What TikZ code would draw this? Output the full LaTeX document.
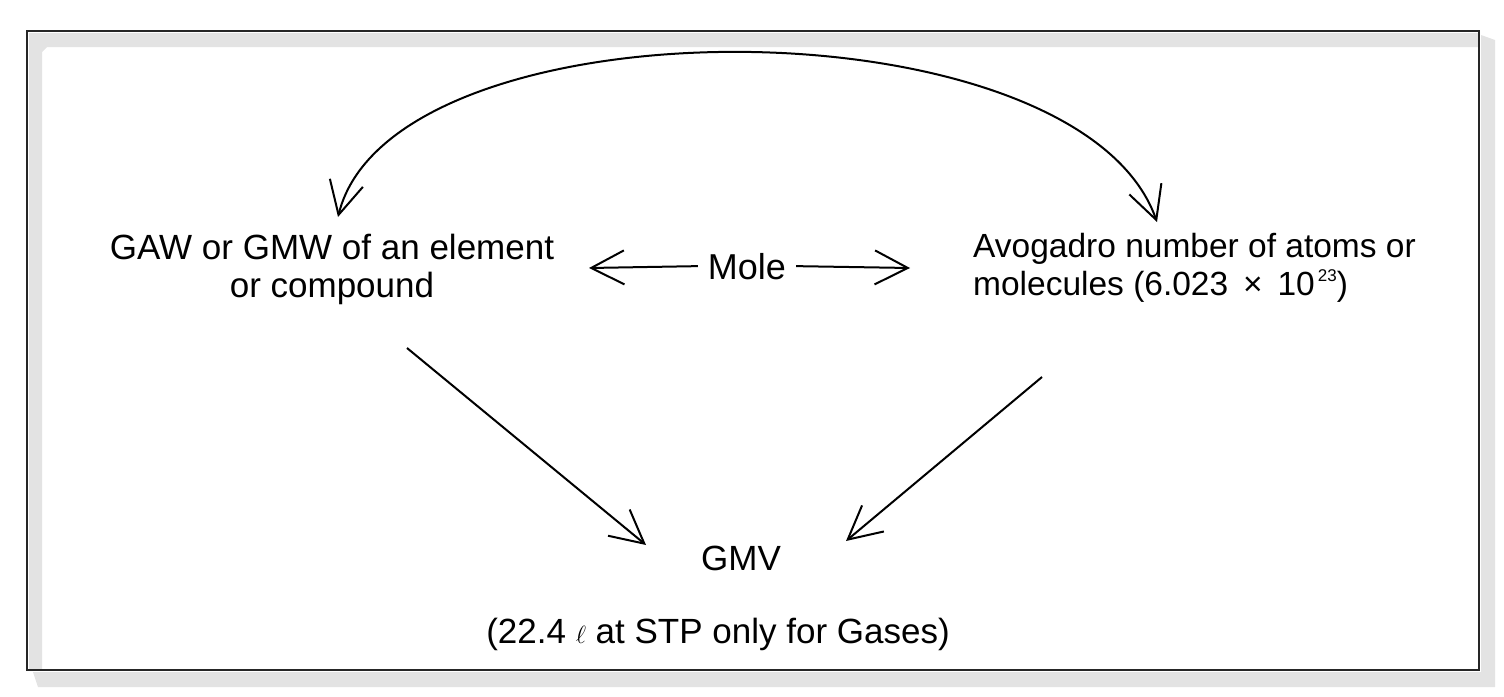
\documentclass[tikz,border=0pt]{standalone}
\usepackage{fontspec}
\setmainfont{Liberation Sans}
\usetikzlibrary{arrows.meta}
\begin{document}
\begin{tikzpicture}[x=1pt,y=-1pt,
  txt/.style={inner sep=0pt,font=\fontsize{35}{38}\selectfont},
  txtR/.style={inner sep=0pt,font=\fontsize{33.5}{38}\selectfont},
  conn/.style={line width=2pt,{Straight Barb[length=33pt,width=34pt,line width=2pt]}-},
  conn2/.style={line width=2pt,{Straight Barb[length=33pt,width=34pt,line width=2pt]}-{Straight Barb[length=33pt,width=34pt,line width=2pt]}},
  shade/.style={fill=black!11,draw=none},
  frame/.style={draw=black!85,line width=2.6pt}]
\useasboundingbox (0,0) rectangle (1504,696);
% frame with shadow bands
\fill[shade] (29,33) -- (1478,33) -- (1478,47) -- (47,47) -- (42,52) -- (42,669) -- (29,669) -- cycle;
\fill[shade] (1481,35) -- (1495,40) -- (1495,687) -- (38,687) -- (33,672) -- (1481,672) -- cycle;
\draw[frame] (27,31) rectangle (1479,670);
% texts
\node[txt,anchor=base,align=center] (gaw) at (332,297) {GAW or GMW of an element\\ or compound};
\node[txtR,anchor=base west,align=left] (avo) at (973,295) {Avogadro number of atoms or\\ molecules (6.023 \,×\, 10\kern3pt\raisebox{14pt}{\fontsize{17}{17}\selectfont 23})};
\node[txt,anchor=base,inner xsep=10pt,font=\fontsize{36}{38}\selectfont] (mole) at (747,279) {Mole};
\node[txt,anchor=base] (gmv) at (741,570) {GMV};
\node[txt,anchor=base] (stp) at (718,643) {(22.4 $\ell$ at STP only for Gases)};
% connector ends
\coordinate (moleL) at (589,268);
\coordinate (moleR) at (910,268);
\coordinate (arcL) at (338,217);
\coordinate (arcR) at (1157,222);
\coordinate (gawT) at (407,348);
\coordinate (gmvL) at (646,545);
\coordinate (avoT) at (1042,377);
\coordinate (gmvR) at (846,541);
% connectors
\draw[conn] (moleL) -- (mole.west);
\draw[conn] (moleR) -- (mole.east);
\draw[conn2] (arcL) .. controls (392,-3) and (1078,-3) .. (arcR);
\draw[conn] (gmvL) -- (gawT);
\draw[conn] (gmvR) -- (avoT);
\end{tikzpicture}
\end{document}
